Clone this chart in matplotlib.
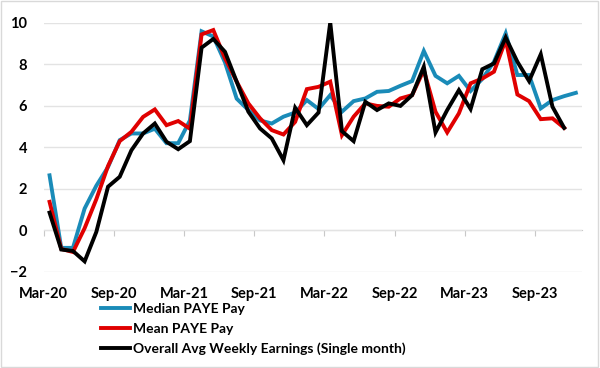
import matplotlib
matplotlib.use("Agg")
import matplotlib.pyplot as plt
from matplotlib.patches import Rectangle

plt.rcParams['font.family'] = ['Lato', 'DejaVu Sans']
plt.rcParams['font.weight'] = 'bold'

# monthly, Mar-20 .. Dec-23
months = ['Mar-20', 'Apr-20', 'May-20', 'Jun-20', 'Jul-20', 'Aug-20', 'Sep-20', 'Oct-20', 'Nov-20', 'Dec-20',
          'Jan-21', 'Feb-21', 'Mar-21', 'Apr-21', 'May-21', 'Jun-21', 'Jul-21', 'Aug-21', 'Sep-21', 'Oct-21',
          'Nov-21', 'Dec-21', 'Jan-22', 'Feb-22', 'Mar-22', 'Apr-22', 'May-22', 'Jun-22', 'Jul-22', 'Aug-22',
          'Sep-22', 'Oct-22', 'Nov-22', 'Dec-22', 'Jan-23', 'Feb-23', 'Mar-23', 'Apr-23', 'May-23', 'Jun-23',
          'Jul-23', 'Aug-23', 'Sep-23', 'Oct-23', 'Nov-23', 'Dec-23']

median_paye = [2.65, -0.85, -0.85, 1.05, 2.15, 3.05, 4.35, 4.67, 4.67, 4.9,
               4.2, 4.2, 5.3, 9.6, 9.35, 8.1, 6.35, 5.8, 5.3, 5.15,
               5.48, 5.68, 6.28, 5.85, 6.52, 5.72, 6.23, 6.36, 6.68, 6.72,
               6.97, 7.2, 8.65, 7.45, 7.09, 7.45, 6.72, 7.3, 8.13, 9.5,
               7.49, 7.49, 5.88, 6.28, 6.47, 6.63]

mean_paye = [1.37, -0.9, -1.05, 0.1, 1.5, 3.1, 4.3, 4.75, 5.47, 5.83,
             5.07, 5.27, 4.9, 9.45, 9.66, 8.3, 7.17, 6.12, 5.4, 4.83,
             4.62, 5.23, 6.81, 6.92, 7.17, 4.59, 5.48, 6.12, 6.0, 5.96,
             6.36, 6.52, 7.73, 5.72, 4.72, 5.64, 7.09, 7.32, 7.65, 9.18,
             6.55, 6.23, 5.36, 5.4, 4.94]

awe_single = [0.85, -0.93, -1.0, -1.5, -0.08, 2.1, 2.58, 3.86, 4.67, 5.15,
              4.27, 3.91, 4.3, 8.81, 9.23, 8.61, 7.17, 5.72, 4.91, 4.43,
              3.38, 5.91, 5.07, 5.68, 10.03, 4.78, 4.3, 6.2, 5.8, 6.12,
              6.0, 6.52, 7.89, 4.72, 5.8, 6.76, 5.85, 7.77, 8.05, 9.3,
              8.13, 7.2, 8.49, 5.96, 4.94]

fig = plt.figure(figsize=(6, 3.68), dpi=100)
ax = fig.add_axes([43.7 / 600, 1 - 271.7 / 368, (581.7 - 43.7) / 600, (271.7 - 23) / 368])

# points sit in the middle of each month slot
x_med = [i + 0.5 for i in range(len(median_paye))]
x_mean = [i + 0.5 for i in range(len(mean_paye))]
x_awe = [i + 0.5 for i in range(len(awe_single))]

ax.plot(x_med, median_paye, color='#1a8bb8', lw=2.8, label='Median PAYE Pay', solid_joinstyle='miter')
ax.plot(x_mean, mean_paye, color='#e00000', lw=2.8, label='Mean PAYE Pay', solid_joinstyle='miter')
ax.plot(x_awe, awe_single, color='black', lw=2.8, label='Overall Avg Weekly Earnings (Single month)',
        solid_joinstyle='miter')

ax.set_xlim(0, len(months))
ax.set_ylim(-2, 10)
ax.set_yticks(range(-2, 11, 2))
ax.yaxis.grid(True, color='#e3e3e3', lw=1)
ax.set_axisbelow(True)

for s in ['top', 'right', 'left']:
    ax.spines[s].set_visible(False)
ax.spines['bottom'].set_position(('data', 0))
ax.spines['bottom'].set_color('#c8c8c8')
ax.spines['bottom'].set_zorder(0.5)

tick_pos = list(range(0, len(months), 6))
ax.set_xticks(tick_pos)
ax.tick_params(axis='x', direction='out', length=4, color='#c8c8c8', labelbottom=False)
ax.tick_params(axis='y', length=0, pad=12, labelsize=10.5)

# labels stay at the bottom of the plot area
sec = ax.secondary_xaxis('bottom')
sec.set_xticks(tick_pos)
sec.set_xticklabels([months[i] for i in tick_pos])
sec.tick_params(length=0, pad=11, labelsize=10.5)
sec.spines['bottom'].set_visible(False)

fig.legend(loc='upper left', bbox_to_anchor=(101 / 600, 1 - 303 / 368), frameon=False,
           fontsize=10, handlelength=2.1, handletextpad=0.2, labelspacing=0.55,
           borderpad=0, borderaxespad=0)

fig.patches.append(Rectangle((0.002, 0.003), 0.995, 0.994, transform=fig.transFigure,
                             fill=False, edgecolor='#d9d9d9', lw=1))

fig.savefig('out.png', dpi=100)
